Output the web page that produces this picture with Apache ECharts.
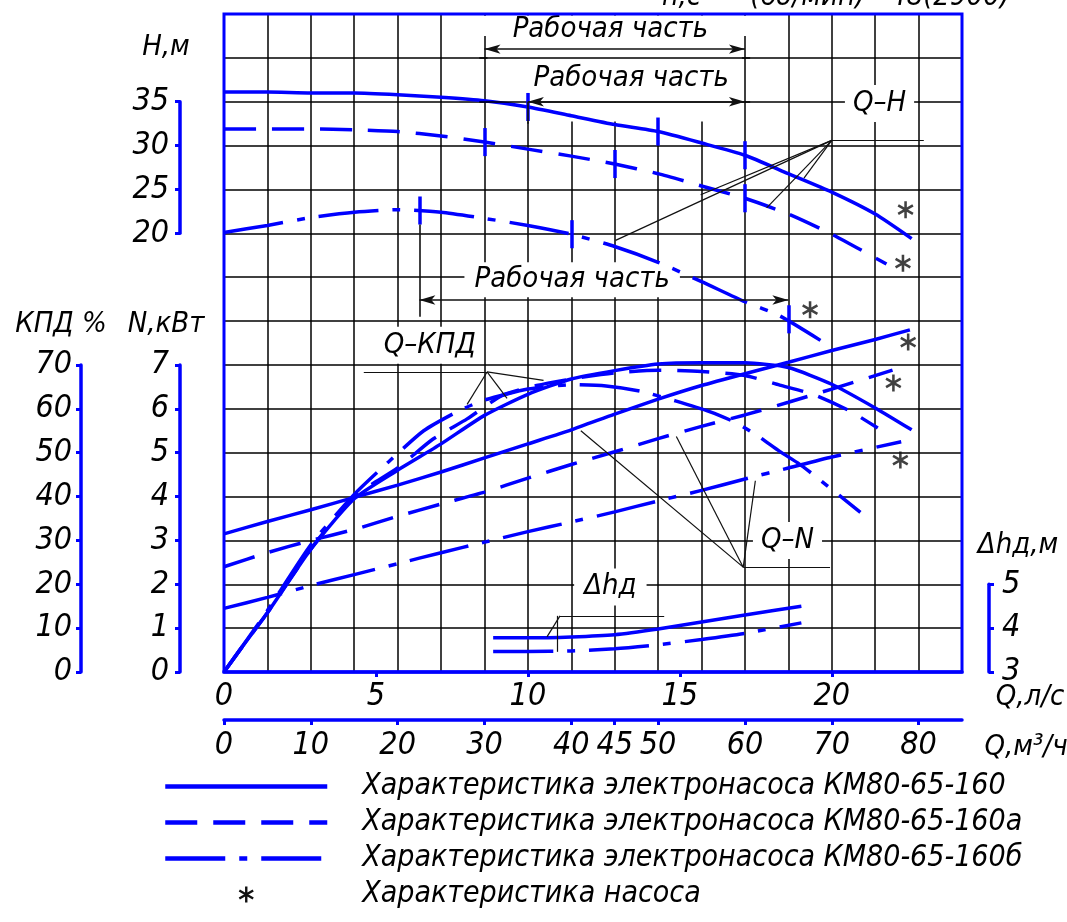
<!DOCTYPE html>
<html><head><meta charset="utf-8">
<script src="https://cdn.jsdelivr.net/npm/echarts@6/dist/echarts.min.js"></script>
<style>html,body{margin:0;padding:0;background:#fff}#c{width:1067px;height:922px}</style>
</head><body><div id="c"></div>
<script>
// ---------- DATA (Q in m3/h) ----------
const qH160  = [0,5,10,15,20,25,30,35,40,45,50,55,60,65,70,75,79.2];
const H160   = [36.1,36.1,36.0,36.0,35.8,35.5,35.1,34.4,33.4,32.4,31.6,30.3,28.9,26.8,24.7,22.2,19.4];
const qH160a = [0,5,10,15,20,25,30,35,40,45,50,55,60,65,70,76.3];
const H160a  = [31.9,31.9,31.9,31.8,31.6,31.1,30.4,29.6,28.8,27.9,26.8,25.4,24.0,22.2,19.9,16.5];
const qH160b = [0,5,10,15,20,25,30,35,40,45,50,55,60,64,68.7];
const H160b  = [20.1,20.9,21.8,22.4,22.7,22.4,21.7,20.9,19.9,18.5,16.7,14.5,12.2,10.6,7.8];

const qN160  = [0,5,10,15,20,25,30,35,40,45,50,55,60,65,70,75,79];
const N160   = [3.15,3.43,3.7,3.98,4.26,4.56,4.88,5.2,5.52,5.88,6.22,6.53,6.8,7.06,7.33,7.58,7.8];
const qN160a = [0,5,10,15,20,25,30,35,40,45,50,55,60,65,70,77];
const N160a  = [2.4,2.72,3.0,3.25,3.55,3.83,4.1,4.42,4.73,5.02,5.32,5.6,5.86,6.15,6.45,6.88];
const qN160b = [0,5,10,15,20,25,30,35,40,45,50,55,60,65,70,78];
const N160b  = [1.45,1.7,1.97,2.22,2.47,2.72,2.96,3.2,3.42,3.65,3.9,4.14,4.4,4.65,4.9,5.25];

const qK160  = [0,2,5,10,15,20,25,30,35,40,45,50,55,60,65,70,75,79.2];
const K160   = [0,5.5,13.5,28,39.5,46,52,58.5,63.3,66.8,68.7,70.2,70.5,70.5,69.4,65.6,60.2,55.2];
const qK160a = [0,2,5,10,15,20,24,28,32,36,40,45,50,55,60,64,68,72,75.3];
const K160a  = [0,5.5,13.5,28,40,46.5,53,57.7,63,65.3,66.8,68.2,68.8,68.5,67.6,65.4,63.2,59.6,55.6];
const qK160b = [0,2,5,10,15,19,23,27,30,35,40,44,48,52,56,59,61.5,64,66.2,68,73.3];
const K160b  = [0,5.5,14,29,40.5,48,55,59.5,62,64.5,65.5,65.2,64,61.8,59.3,56.8,53.8,50.3,47.5,44.8,36.4];

const qD160  = [31,35,40,45,50,55,60,66.5];
const D160   = [3.78,3.78,3.8,3.85,3.98,4.14,4.3,4.5];
const qD160b = [31,35,40,45,50,55,60,66.5];
const D160b  = [3.47,3.47,3.48,3.53,3.62,3.74,3.88,4.12];

const starQH = [78.5,78.2,67.5];
const starH  = [22.7,16.6,11.3];
const starQN = [78.8,77.1,77.9];
const starN  = [7.52,6.59,4.83];

const tickQ160  = [35,50,60];   const tickH160  = [34.4,31.6,28.9];
const tickQ160a = [30,45,60];   const tickH160a = [30.4,27.9,24.0];
const tickQ160b = [22.5,40,65]; const tickH160b = [22.6,19.9,10.2];

const qM3Labels = [0,10,20,30,40,45,50,60,70,80];
const qLsLabels = [0,5,10,15,20];

const NAME1 = 'Характеристика электронасоса КМ80-65-160';
const NAME2 = 'Характеристика электронасоса КМ80-65-160а';
const NAME3 = 'Характеристика электронасоса КМ80-65-160б';
const NAME4 = 'Характеристика насоса';

// ---------- STYLE / LAYOUT ----------
const BLUE = '#0000ff', TXT = '#000', GRIDC = '#000';
const FF = "'Liberation Sans Narrow','DejaVu Sans Condensed','Arial Narrow',sans-serif";
const FS = 32, FT = 29;
const L = 224, R = 962, T = 14, B = 672;
const perN = (B - T) / 15;
const yOfN = n => B - n * perN;
const DASHED = [32, 16], DASHDOT = [60, 14, 8, 14];

const pairs = (q, v) => q.map((x, i) => [x, v[i]]);
function curve(name, yIdx, q, v, type) {
  return { name, type: 'line', xAxisIndex: 0, yAxisIndex: yIdx, data: pairs(q, v), symbol: 'none', showSymbol: false,
    smooth: 0.2, lineStyle: { color: BLUE, width: 3.5, type }, itemStyle: { color: BLUE },
    z: 4, silent: true, animation: false };
}
const thin = { color: '#111', width: 1.2, type: 'solid' };
const dimS = { color: '#111', width: 1.6, type: 'solid' };
const gridS = { color: GRIDC, width: 1.5, type: 'solid' };
const tickS = { color: BLUE, width: 3.5, type: 'solid' };
function seg(a, b, style, s1, s2) {
  return [{ coord: a, lineStyle: style, symbol: s1 || 'none' }, { coord: b, symbol: s2 || 'none' }];
}
function ann(yIdx, segs, z) {
  return { type: 'line', xAxisIndex: 0, yAxisIndex: yIdx, data: [], z: z || 3, silent: true, animation: false,
    markLine: { silent: true, animation: false, symbol: ['none', 'none'], symbolSize: [7, 16], label: { show: false },
      emphasis: { disabled: true }, data: segs } };
}
function texts(yIdx, items) {
  return { type: 'scatter', xAxisIndex: 0, yAxisIndex: yIdx, symbolSize: 0, z: 3, silent: true, animation: false,
    data: items.map(t => ({ value: [t.x, t.y], label: { show: true, position: 'inside', formatter: t.text, opacity: 1,
      backgroundColor: t.bg ? '#fff' : 'transparent', padding: t.pad || 0, fontSize: FT, fontStyle: 'italic',
      fontFamily: FF, color: TXT, textBorderWidth: 0 } })) };
}
// asterisk symbol
function asterisk() {
  let p = '';
  [90, 30, 150].forEach(a => {
    const t = a * Math.PI / 180, c = Math.cos(t), s = Math.sin(t), Ln = 10, w = 1.5;
    const P = [[Ln*c - w*s, Ln*s + w*c], [Ln*c + w*s, Ln*s - w*c], [-Ln*c + w*s, -Ln*s - w*c], [-Ln*c - w*s, -Ln*s + w*c]];
    p += 'M' + P.map(q => q[0].toFixed(2) + ',' + q[1].toFixed(2)).join('L') + 'Z';
  });
  return 'path://' + p;
}
const STAR = asterisk();

// tick marks on H curves (working range limits)
const tickSegs = [];
[[tickQ160, tickH160], [tickQ160a, tickH160a], [tickQ160b, tickH160b]].forEach(([qs, hs]) => {
  qs.forEach((q, i) => tickSegs.push(seg([q, hs[i] - 1.6], [q, hs[i] + 1.6], tickS)));
});

const axisBase = { axisLine: { show: false }, axisTick: { show: false }, axisLabel: { show: false } };
const hidden = { type: 'value', show: false };
const lblStyle = { fontSize: FS, fontStyle: 'italic', fontFamily: FF, color: TXT };
function barAxis(grid, min, max, interval, pos, margin) {
  return { type: 'value', gridIndex: grid, min, max, interval, position: pos,
    axisLine: { show: true, onZero: false, lineStyle: { color: BLUE, width: 3.5 } },
    axisTick: { show: true, length: 5, lineStyle: { color: BLUE, width: 3 } },
    axisLabel: Object.assign({ margin }, lblStyle), splitLine: { show: false } };
}
function gtext(x, y, text, align) {
  return { type: 'text', x, y, style: { text, fill: TXT, fontSize: FT, fontStyle: 'italic', fontFamily: FF, align: align || 'center', verticalAlign: 'middle' } };
}

const option = {
  animation: false,
  backgroundColor: '#fff',
  textStyle: { fontFamily: FF },
  grid: [
    { left: L, top: T, width: R - L, height: B - T, show: true, borderColor: BLUE, borderWidth: 3, z: 6 },
    { left: 180, width: 2, top: yOfN(13), height: 3 * perN },
    { left: 180, width: 2, top: yOfN(7), height: 7 * perN },
    { left: 81, width: 2, top: yOfN(7), height: 7 * perN },
    { left: 987, width: 2, top: yOfN(2), height: 2 * perN }
  ],
  xAxis: [
    { type: 'value', gridIndex: 0, min: 0, max: 85, interval: 5, position: 'bottom', offset: 48,
      axisLine: { show: true, onZero: false, lineStyle: { color: BLUE, width: 3.5 } },
      axisTick: { show: true, customValues: qM3Labels, length: 5, lineStyle: { color: BLUE, width: 3 } },
      axisLabel: Object.assign({ customValues: qM3Labels, margin: 10 }, lblStyle), splitLine: { show: false } },
    { type: 'value', gridIndex: 0, min: 0, max: 85 / 3.5, interval: 5, position: 'bottom',
      axisLine: { show: true, onZero: false, lineStyle: { color: BLUE, width: 3.5 } },
      axisTick: { show: true, customValues: [5, 10, 15, 20], length: 5, lineStyle: { color: BLUE, width: 3 } },
      axisLabel: Object.assign({ customValues: qLsLabels, margin: 9 }, lblStyle), splitLine: { show: false } },
    Object.assign({ type: 'value', gridIndex: 0, min: 0, max: 85, interval: 5, show: true,
      splitLine: { show: true, showMinLine: false, showMaxLine: false, lineStyle: gridS } }, axisBase),
    Object.assign({ gridIndex: 1 }, hidden), Object.assign({ gridIndex: 2 }, hidden),
    Object.assign({ gridIndex: 3 }, hidden), Object.assign({ gridIndex: 4 }, hidden)
  ],
  yAxis: [
    Object.assign({ type: 'value', gridIndex: 0, min: 0, max: 15, interval: 1,
      splitLine: { show: true, showMinLine: false, showMaxLine: false, lineStyle: gridS } }, axisBase),
    { type: 'value', gridIndex: 0, min: -30, max: 45, show: false },
    { type: 'value', gridIndex: 0, min: 0, max: 150, show: false },
    { type: 'value', gridIndex: 0, min: 3, max: 18, show: false },
    barAxis(1, 20, 35, 5, 'left', 11),
    barAxis(2, 0, 7, 1, 'left', 11),
    barAxis(3, 0, 70, 10, 'left', 9),
    barAxis(4, 3, 5, 1, 'right', 13)
  ],
  legend: {
    orient: 'vertical', left: 163, top: 771, padding: 0, itemWidth: 162, itemHeight: 16, itemGap: 5, selectedMode: false,
    itemStyle: { opacity: 0 }, lineStyle: { width: 4.5 },
    data: [NAME1, NAME2, NAME3, { name: NAME4, itemStyle: { opacity: 1, color: '#111' } }],
    textStyle: { fontSize: 30, fontStyle: 'italic', fontFamily: FF, color: TXT, padding: [0, 0, 0, 30], lineHeight: 31 }
  },
  graphic: [
    gtext(166, 47, 'Н,м'),
    gtext(61, 324, 'КПД %'),
    gtext(166, 324, 'N,кВт'),
    gtext(1018, 545, 'Δhд,м'),
    gtext(1030, 697, 'Q,л/с'),
    gtext(1026, 747, 'Q,м³/ч'),
    gtext(662, -3, 'n,c⁻¹   (об/мин)   48(2900)', 'left')
  ],
  series: [
    curve(NAME1, 1, qH160, H160, 'solid'),
    curve(NAME2, 1, qH160a, H160a, DASHED),
    curve(NAME3, 1, qH160b, H160b, DASHDOT),
    curve(NAME1, 0, qN160, N160, 'solid'),
    curve(NAME2, 0, qN160a, N160a, DASHED),
    curve(NAME3, 0, qN160b, N160b, DASHDOT),
    curve(NAME1, 2, qK160, K160, 'solid'),
    curve(NAME2, 2, qK160a, K160a, DASHED),
    curve(NAME3, 2, qK160b, K160b, DASHDOT),
    curve(NAME1, 3, qD160, D160, 'solid'),
    curve(NAME3, 3, qD160b, D160b, DASHDOT),
    { name: NAME4, type: 'scatter', xAxisIndex: 0, yAxisIndex: 1, data: pairs(starQH, starH), symbol: STAR, symbolSize: 17, symbolKeepAspect: true, itemStyle: { color: '#111' }, z: 5, silent: true },
    { name: NAME4, type: 'scatter', xAxisIndex: 0, yAxisIndex: 0, data: pairs(starQN, starN), symbol: STAR, symbolSize: 17, symbolKeepAspect: true, itemStyle: { color: '#111' }, z: 5, silent: true },
    // white mask hiding grid under the top dimension texts
    { type: 'line', xAxisIndex: 0, yAxisIndex: 0, data: [], z: 1, silent: true,
      markArea: { silent: true, itemStyle: { color: '#fff' }, label: { show: false },
        data: [[{ coord: [30.35, 12.55] }, { coord: [59.65, 14.96] }], [{ coord: [29.4, 14.5] }, { coord: [60.6, 14.96] }]] } },
    ann(0, [seg([29.4, 14], [60.6, 14], gridS), seg([29.4, 13], [60.6, 13], gridS),
      // Q-N leader
      seg([59.8, 2.39], [69.8, 2.39], thin), seg([59.8, 2.39], [41.1, 5.5], thin),
      seg([59.8, 2.39], [52.1, 5.37], thin), seg([59.8, 2.39], [61.2, 4.36], thin)]),
    ann(1, tickSegs.concat([
      seg([30, 41.0], [60, 41.0], dimS, 'arrow', 'arrow'),
      seg([35, 35.0], [60, 35.0], dimS, 'arrow', 'arrow'),
      seg([22.5, 12.4], [65, 12.4], dimS, 'arrow', 'arrow'),
      seg([35, 35.0], [35, 32.5], dimS),
      seg([22.5, 21.0], [22.5, 10.5], dimS),
      // Q-H leaders
      seg([70, 30.6], [80.6, 30.6], thin), seg([70, 30.6], [66.8, 26.3], thin),
      seg([70, 30.6], [62.5, 22.9], thin), seg([70, 30.6], [54.9, 24.4], thin), seg([70, 30.6], [45.1, 19.2], thin)
    ]), 5),
    ann(2, [seg([16.1, 68.4], [30.3, 68.4], thin), seg([30.3, 68.4], [28, 61], thin),
      seg([30.3, 68.4], [32.6, 62.4], thin), seg([30.3, 68.4], [36.8, 66.5], thin)]),
    ann(3, [seg([38.7, 4.28], [50.7, 4.28], thin), seg([38.7, 4.28], [37.2, 3.8], thin), seg([38.4, 4.28], [38.4, 3.46], thin)]),
    texts(1, [
      { x: 44.5, y: 43.2, text: 'Рабочая часть' },
      { x: 46.9, y: 37.7, text: 'Рабочая часть' },
      { x: 40.1, y: 14.7, text: 'Рабочая часть', bg: true, pad: [3, 10] },
      { x: 75.5, y: 34.8, text: 'Q–H', bg: true, pad: [4, 8] }
    ]),
    texts(2, [{ x: 23.7, y: 74.5, text: 'Q–КПД', bg: true, pad: [4, 8] }]),
    texts(0, [{ x: 64.9, y: 3.0, text: 'Q–N', bg: true, pad: [4, 8] }]),
    texts(3, [{ x: 44.5, y: 4.94, text: 'Δhд', bg: true, pad: [4, 10] }])
  ]
};
const chart = echarts.init(document.getElementById('c'), null, { renderer: 'canvas', width: 1067, height: 922 });
chart.setOption(option);
</script>
</body></html>
